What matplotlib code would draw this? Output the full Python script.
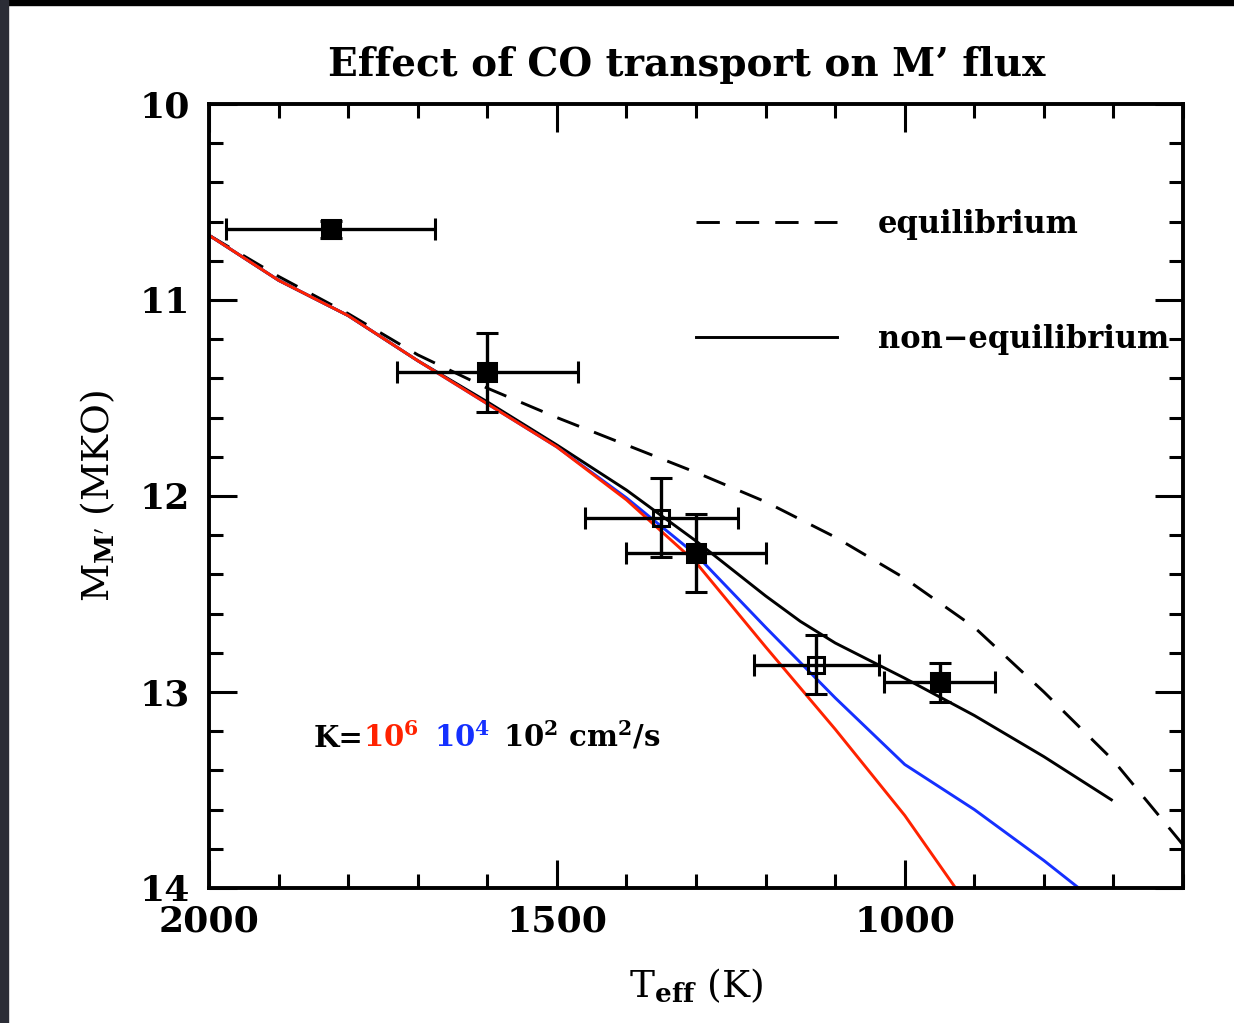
import numpy as np
import matplotlib.pyplot as plt
from matplotlib.patches import Rectangle
from matplotlib.ticker import MultipleLocator

plt.rcParams['font.family'] = ['DejaVu Serif']
plt.rcParams['font.weight'] = 'bold'
plt.rcParams['mathtext.fontset'] = 'dejavuserif'
plt.rcParams['mathtext.default'] = 'bf'

# model tracks: Teff (K) vs M' magnitude
teff_eq = [2000, 1900, 1800, 1700, 1600, 1500, 1400, 1300, 1200, 1100, 1000, 900, 800, 700, 600]
mag_eq = [10.67, 10.88, 11.07, 11.28, 11.45, 11.60, 11.74, 11.88, 12.03, 12.21, 12.42, 12.67, 13.00, 13.35, 13.78]

teff_k6 = [2000, 1900, 1800, 1700, 1600, 1500, 1400, 1300, 1200, 1100, 1000, 927, 900]
mag_k6 = [10.67, 10.90, 11.08, 11.31, 11.53, 11.75, 12.02, 12.34, 12.77, 13.19, 13.63, 14.00, 14.14]

teff_k4 = [2000, 1900, 1800, 1700, 1600, 1500, 1400, 1300, 1200, 1100, 1000, 900, 800, 750]
mag_k4 = [10.67, 10.90, 11.08, 11.31, 11.53, 11.75, 12.01, 12.30, 12.67, 13.03, 13.37, 13.60, 13.86, 14.00]

teff_k2 = [2000, 1900, 1800, 1700, 1600, 1500, 1400, 1300, 1200, 1150, 1100, 1000, 900, 800, 703]
mag_k2 = [10.67, 10.90, 11.08, 11.31, 11.52, 11.74, 11.97, 12.23, 12.51, 12.64, 12.75, 12.93, 13.12, 13.33, 13.55]

# observed objects
obs_teff = [1825, 1600, 1350, 1300, 1127, 950]
obs_teff_err = [150, 130, 110, 100, 90, 80]
obs_mag = [10.64, 11.37, 12.11, 12.29, 12.86, 12.95]
obs_mag_err = [0.045, 0.20, 0.20, 0.20, 0.15, 0.10]
obs_filled = [True, True, False, True, False, True]

fig = plt.figure(figsize=(12.34, 10.23), dpi=100)
fig.patch.set_facecolor('white')
fig.patches.append(Rectangle((0, 0.995), 1, 0.005, transform=fig.transFigure,
                             color='black', zorder=-1))
fig.patches.append(Rectangle((0, 0), 0.0065, 1, transform=fig.transFigure,
                             color='#2b2d36', zorder=-1))

ax = fig.add_axes([0.1694, 0.132, 0.7893, 0.7664])

ax.plot(teff_eq, mag_eq, color='black', lw=2.1, dashes=(8, 5.5), label='equilibrium')
ax.plot(teff_k2, mag_k2, color='black', lw=2.1, label='non\u2212equilibrium')
ax.plot(teff_k4, mag_k4, color='#1530ff', lw=2.1)
ax.plot(teff_k6, mag_k6, color='#ff2200', lw=2.1)

for t, te, m, me, filled in zip(obs_teff, obs_teff_err, obs_mag, obs_mag_err, obs_filled):
    ax.errorbar(t, m, xerr=te, yerr=me, fmt='s', ms=12.5 if filled else 11.5,
                mfc='black' if filled else 'none', mec='black', mew=2.2,
                ecolor='black', elinewidth=2.4, capsize=8, capthick=2.4, zorder=5)

ax.set_xlim(2000, 600)
ax.set_ylim(14, 10)

ax.xaxis.set_major_locator(MultipleLocator(500))
ax.xaxis.set_minor_locator(MultipleLocator(100))
ax.yaxis.set_major_locator(MultipleLocator(1))
ax.yaxis.set_minor_locator(MultipleLocator(0.2))
ax.tick_params(which='both', direction='in', top=True, right=True, width=2.2,
               labelsize=26)
ax.tick_params(which='major', length=20)
ax.tick_params(which='minor', length=10)
ax.tick_params(axis='x', pad=12)
ax.tick_params(axis='y', pad=14)
for s in ax.spines.values():
    s.set_linewidth(2.8)

ax.set_title('Effect of CO transport on M\u2019 flux', fontsize=28,
             fontweight='bold', pad=20, x=0.49)
ax.set_xlabel('T$_{\\rm eff}$ (K)', fontsize=27, labelpad=20)
ax.set_ylabel("M$_{M'}$ (MKO)", fontsize=27, labelpad=16)

ax.legend(loc='upper left', bbox_to_anchor=(0.5, 0.866), frameon=False,
          prop={'size': 22, 'weight': 'bold'}, handlelength=4.6,
          handletextpad=1.35, labelspacing=2.75, borderpad=0, borderaxespad=0)

# diffusion coefficient key, coloured like the tracks
t1 = ax.text(0.107, 0.191, 'K=', transform=ax.transAxes, fontsize=21,
             color='black', va='center', ha='left')
t2 = ax.annotate('10$^6$', xy=(1, 0), xycoords=t1, xytext=(0, 0),
                 textcoords='offset points', fontsize=21, color='#ff2200',
                 va='bottom', ha='left')
t3 = ax.annotate('10$^4$', xy=(1, 0), xycoords=t2, xytext=(11, 0),
                 textcoords='offset points', fontsize=21, color='#1530ff',
                 va='bottom', ha='left')
t4 = ax.annotate('10$^2$ cm$^2$/s', xy=(1, 0), xycoords=t3, xytext=(9, 0),
                 textcoords='offset points', fontsize=21, color='black',
                 va='bottom', ha='left')

fig.savefig('out.png', dpi=100)
